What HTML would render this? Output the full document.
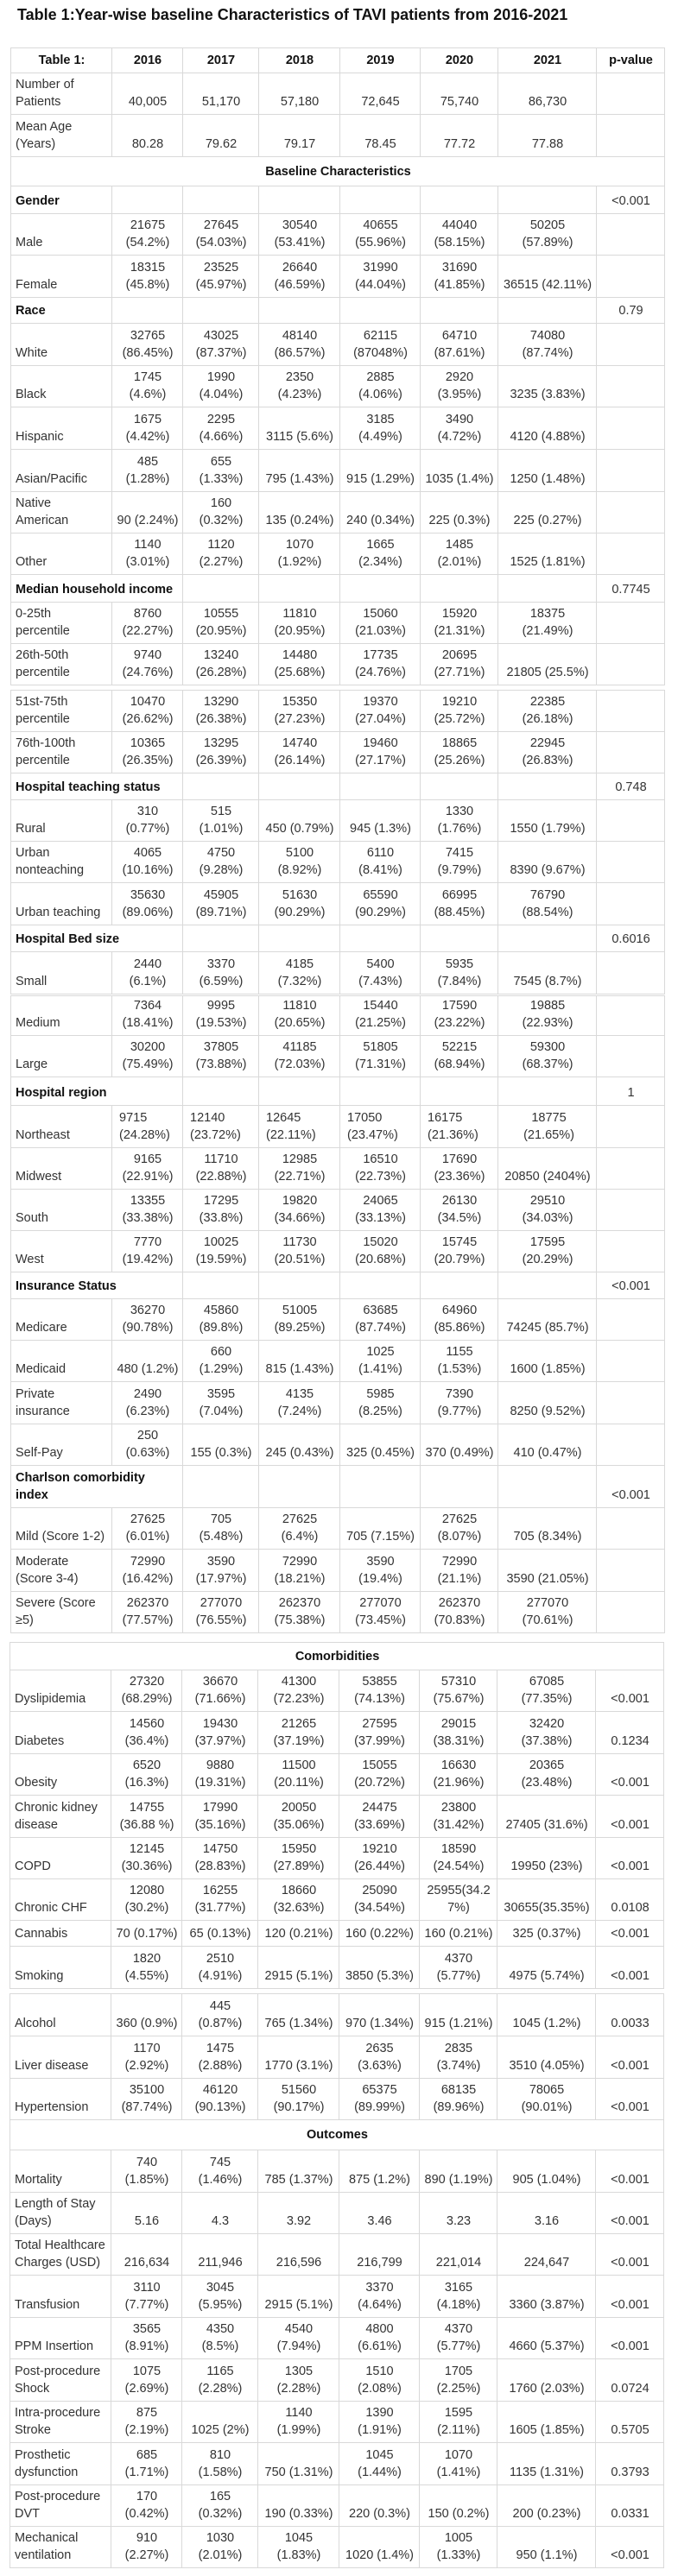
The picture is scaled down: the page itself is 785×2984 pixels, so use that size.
<!DOCTYPE html>
<html><head><meta charset="utf-8">
<style>
html,body{margin:0;padding:0;background:#fff;}
body{width:785px;height:2984px;position:relative;font-family:"Liberation Sans",Arial,sans-serif;color:#333;overflow:hidden;}
.title{position:absolute;left:20px;top:7px;font-size:18px;font-weight:bold;color:#111;white-space:nowrap;}
table{position:absolute;left:12px;width:757px;border-collapse:collapse;table-layout:fixed;font-size:14.5px;line-height:20px;}
td{border:1px solid #d9d9d9;padding:0 4px 4px 5px;vertical-align:bottom;text-align:center;white-space:nowrap;overflow:hidden;}
td:first-child{text-align:left;}
.h td{font-weight:bold;color:#111;vertical-align:middle;padding-bottom:0;}
.s td{font-weight:bold;color:#111;text-align:center !important;vertical-align:middle;padding-bottom:0;}
td.b{font-weight:bold;color:#111;}
.l td{text-align:left;padding-left:8px;}
</style></head><body>
<div class="title">Table 1:Year-wise baseline Characteristics of TAVI patients from 2016-2021</div>

<table style="top:55px">
<colgroup><col style="width:117px"><col style="width:82px"><col style="width:88px"><col style="width:94px"><col style="width:93px"><col style="width:90px"><col style="width:114px"><col style="width:79px"></colgroup>
<tr class="h" style="height:29px"><td style="text-align:center">Table 1:</td><td>2016</td><td>2017</td><td>2018</td><td>2019</td><td>2020</td><td>2021</td><td>p-value</td></tr>
<tr style="height:48px"><td>Number of<br>Patients</td><td>40,005</td><td>51,170</td><td>57,180</td><td>72,645</td><td>75,740</td><td>86,730</td><td></td></tr>
<tr style="height:49px"><td>Mean Age<br>(Years)</td><td>80.28</td><td>79.62</td><td>79.17</td><td>78.45</td><td>77.72</td><td>77.88</td><td></td></tr>
<tr class="s" style="height:34px"><td colspan="8">Baseline Characteristics</td></tr>
<tr style="height:32px"><td class="b">Gender</td><td></td><td></td><td></td><td></td><td></td><td></td><td>&lt;0.001</td></tr>
<tr style="height:48px"><td>Male</td><td>21675<br>(54.2%)</td><td>27645<br>(54.03%)</td><td>30540<br>(53.41%)</td><td>40655<br>(55.96%)</td><td>44040<br>(58.15%)</td><td>50205<br>(57.89%)</td><td></td></tr>
<tr style="height:49px"><td>Female</td><td>18315<br>(45.8%)</td><td>23525<br>(45.97%)</td><td>26640<br>(46.59%)</td><td>31990<br>(44.04%)</td><td>31690<br>(41.85%)</td><td>36515 (42.11%)</td><td></td></tr>
<tr style="height:30px"><td class="b">Race</td><td></td><td></td><td></td><td></td><td></td><td></td><td>0.79</td></tr>
<tr style="height:49px"><td>White</td><td>32765<br>(86.45%)</td><td>43025<br>(87.37%)</td><td>48140<br>(86.57%)</td><td>62115<br>(87048%)</td><td>64710<br>(87.61%)</td><td>74080<br>(87.74%)</td><td></td></tr>
<tr style="height:48px"><td>Black</td><td>1745<br>(4.6%)</td><td>1990<br>(4.04%)</td><td>2350<br>(4.23%)</td><td>2885<br>(4.06%)</td><td>2920<br>(3.95%)</td><td>3235 (3.83%)</td><td></td></tr>
<tr style="height:49px"><td>Hispanic</td><td>1675<br>(4.42%)</td><td>2295<br>(4.66%)</td><td>3115 (5.6%)</td><td>3185<br>(4.49%)</td><td>3490<br>(4.72%)</td><td>4120 (4.88%)</td><td></td></tr>
<tr style="height:49px"><td>Asian/Pacific</td><td>485<br>(1.28%)</td><td>655<br>(1.33%)</td><td>795 (1.43%)</td><td>915 (1.29%)</td><td>1035 (1.4%)</td><td>1250 (1.48%)</td><td></td></tr>
<tr style="height:48px"><td>Native<br>American</td><td>90 (2.24%)</td><td>160<br>(0.32%)</td><td>135 (0.24%)</td><td>240 (0.34%)</td><td>225 (0.3%)</td><td>225 (0.27%)</td><td></td></tr>
<tr style="height:48px"><td>Other</td><td>1140<br>(3.01%)</td><td>1120<br>(2.27%)</td><td>1070<br>(1.92%)</td><td>1665<br>(2.34%)</td><td>1485<br>(2.01%)</td><td>1525 (1.81%)</td><td></td></tr>
<tr style="height:32px"><td class="b" colspan="2">Median household income</td><td></td><td></td><td></td><td></td><td></td><td>0.7745</td></tr>
<tr style="height:48px"><td>0-25th<br>percentile</td><td>8760<br>(22.27%)</td><td>10555<br>(20.95%)</td><td>11810<br>(20.95%)</td><td>15060<br>(21.03%)</td><td>15920<br>(21.31%)</td><td>18375<br>(21.49%)</td><td></td></tr>
<tr style="height:48px"><td>26th-50th<br>percentile</td><td>9740<br>(24.76%)</td><td>13240<br>(26.28%)</td><td>14480<br>(25.68%)</td><td>17735<br>(24.76%)</td><td>20695<br>(27.71%)</td><td>21805 (25.5%)</td><td></td></tr>
</table>

<table style="top:799px">
<colgroup><col style="width:117px"><col style="width:82px"><col style="width:88px"><col style="width:94px"><col style="width:93px"><col style="width:90px"><col style="width:114px"><col style="width:79px"></colgroup>
<tr style="height:48px"><td>51st-75th<br>percentile</td><td>10470<br>(26.62%)</td><td>13290<br>(26.38%)</td><td>15350<br>(27.23%)</td><td>19370<br>(27.04%)</td><td>19210<br>(25.72%)</td><td>22385<br>(26.18%)</td><td></td></tr>
<tr style="height:48px"><td>76th-100th<br>percentile</td><td>10365<br>(26.35%)</td><td>13295<br>(26.39%)</td><td>14740<br>(26.14%)</td><td>19460<br>(27.17%)</td><td>18865<br>(25.26%)</td><td>22945<br>(26.83%)</td><td></td></tr>
<tr style="height:31px"><td class="b" colspan="2">Hospital teaching status</td><td></td><td></td><td></td><td></td><td></td><td>0.748</td></tr>
<tr style="height:48px"><td>Rural</td><td>310<br>(0.77%)</td><td>515<br>(1.01%)</td><td>450 (0.79%)</td><td>945 (1.3%)</td><td>1330<br>(1.76%)</td><td>1550 (1.79%)</td><td></td></tr>
<tr style="height:48px"><td>Urban<br>nonteaching</td><td>4065<br>(10.16%)</td><td>4750<br>(9.28%)</td><td>5100<br>(8.92%)</td><td>6110<br>(8.41%)</td><td>7415<br>(9.79%)</td><td>8390 (9.67%)</td><td></td></tr>
<tr style="height:49px"><td>Urban teaching</td><td>35630<br>(89.06%)</td><td>45905<br>(89.71%)</td><td>51630<br>(90.29%)</td><td>65590<br>(90.29%)</td><td>66995<br>(88.45%)</td><td>76790<br>(88.54%)</td><td></td></tr>
<tr style="height:31px"><td class="b" colspan="2">Hospital Bed size</td><td></td><td></td><td></td><td></td><td></td><td>0.6016</td></tr>
<tr style="height:49px"><td>Small</td><td>2440<br>(6.1%)</td><td>3370<br>(6.59%)</td><td>4185<br>(7.32%)</td><td>5400<br>(7.43%)</td><td>5935<br>(7.84%)</td><td>7545 (8.7%)</td><td></td></tr>
</table>

<table style="top:1153px">
<colgroup><col style="width:117px"><col style="width:82px"><col style="width:88px"><col style="width:94px"><col style="width:93px"><col style="width:90px"><col style="width:114px"><col style="width:79px"></colgroup>
<tr style="height:46px"><td>Medium</td><td>7364<br>(18.41%)</td><td>9995<br>(19.53%)</td><td>11810<br>(20.65%)</td><td>15440<br>(21.25%)</td><td>17590<br>(23.22%)</td><td>19885<br>(22.93%)</td><td></td></tr>
<tr style="height:48px"><td>Large</td><td>30200<br>(75.49%)</td><td>37805<br>(73.88%)</td><td>41185<br>(72.03%)</td><td>51805<br>(71.31%)</td><td>52215<br>(68.94%)</td><td>59300<br>(68.37%)</td><td></td></tr>
<tr style="height:33px"><td class="b" colspan="2">Hospital region</td><td></td><td></td><td></td><td></td><td></td><td>1</td></tr>
<tr class="l" style="height:49px"><td style="padding-left:5px">Northeast</td><td>9715<br>(24.28%)</td><td>12140<br>(23.72%)</td><td>12645<br>(22.11%)</td><td>17050<br>(23.47%)</td><td>16175<br>(21.36%)</td><td style="text-align:center">18775<br>(21.65%)</td><td></td></tr>
<tr style="height:48px"><td>Midwest</td><td>9165<br>(22.91%)</td><td>11710<br>(22.88%)</td><td>12985<br>(22.71%)</td><td>16510<br>(22.73%)</td><td>17690<br>(23.36%)</td><td>20850 (2404%)</td><td></td></tr>
<tr style="height:48px"><td>South</td><td>13355<br>(33.38%)</td><td>17295<br>(33.8%)</td><td>19820<br>(34.66%)</td><td>24065<br>(33.13%)</td><td>26130<br>(34.5%)</td><td>29510<br>(34.03%)</td><td></td></tr>
<tr style="height:48px"><td>West</td><td>7770<br>(19.42%)</td><td>10025<br>(19.59%)</td><td>11730<br>(20.51%)</td><td>15020<br>(20.68%)</td><td>15745<br>(20.79%)</td><td>17595<br>(20.29%)</td><td></td></tr>
<tr style="height:31px"><td class="b" colspan="2">Insurance Status</td><td></td><td></td><td></td><td></td><td></td><td>&lt;0.001</td></tr>
<tr style="height:48px"><td>Medicare</td><td>36270<br>(90.78%)</td><td>45860<br>(89.8%)</td><td>51005<br>(89.25%)</td><td>63685<br>(87.74%)</td><td>64960<br>(85.86%)</td><td>74245 (85.7%)</td><td></td></tr>
<tr style="height:48px"><td>Medicaid</td><td>480 (1.2%)</td><td>660<br>(1.29%)</td><td>815 (1.43%)</td><td>1025<br>(1.41%)</td><td>1155<br>(1.53%)</td><td>1600 (1.85%)</td><td></td></tr>
<tr style="height:49px"><td>Private<br>insurance</td><td>2490<br>(6.23%)</td><td>3595<br>(7.04%)</td><td>4135<br>(7.24%)</td><td>5985<br>(8.25%)</td><td>7390<br>(9.77%)</td><td>8250 (9.52%)</td><td></td></tr>
<tr style="height:48px"><td>Self-Pay</td><td>250<br>(0.63%)</td><td>155 (0.3%)</td><td>245 (0.43%)</td><td>325 (0.45%)</td><td>370 (0.49%)</td><td>410 (0.47%)</td><td></td></tr>
<tr style="height:49px"><td class="b" colspan="2">Charlson comorbidity<br>index</td><td></td><td></td><td></td><td></td><td></td><td>&lt;0.001</td></tr>
<tr style="height:48px"><td>Mild (Score 1-2)</td><td>27625<br>(6.01%)</td><td>705<br>(5.48%)</td><td>27625<br>(6.4%)</td><td>705 (7.15%)</td><td>27625<br>(8.07%)</td><td>705 (8.34%)</td><td></td></tr>
<tr style="height:49px"><td>Moderate<br>(Score 3-4)</td><td>72990<br>(16.42%)</td><td>3590<br>(17.97%)</td><td>72990<br>(18.21%)</td><td>3590<br>(19.4%)</td><td>72990<br>(21.1%)</td><td>3590 (21.05%)</td><td></td></tr>
<tr style="height:48px"><td>Severe (Score<br>≥5)</td><td>262370<br>(77.57%)</td><td>277070<br>(76.55%)</td><td>262370<br>(75.38%)</td><td>277070<br>(73.45%)</td><td>262370<br>(70.83%)</td><td>277070<br>(70.61%)</td><td></td></tr>
</table>

<table style="top:1902px;left:11px">
<colgroup><col style="width:117px"><col style="width:82px"><col style="width:88px"><col style="width:94px"><col style="width:93px"><col style="width:90px"><col style="width:114px"><col style="width:79px"></colgroup>
<tr class="s" style="height:32px"><td colspan="8">Comorbidities</td></tr>
<tr style="height:48px"><td>Dyslipidemia</td><td>27320<br>(68.29%)</td><td>36670<br>(71.66%)</td><td>41300<br>(72.23%)</td><td>53855<br>(74.13%)</td><td>57310<br>(75.67%)</td><td>67085<br>(77.35%)</td><td>&lt;0.001</td></tr>
<tr style="height:49px"><td>Diabetes</td><td>14560<br>(36.4%)</td><td>19430<br>(37.97%)</td><td>21265<br>(37.19%)</td><td>27595<br>(37.99%)</td><td>29015<br>(38.31%)</td><td>32420<br>(37.38%)</td><td>0.1234</td></tr>
<tr style="height:48px"><td>Obesity</td><td>6520<br>(16.3%)</td><td>9880<br>(19.31%)</td><td>11500<br>(20.11%)</td><td>15055<br>(20.72%)</td><td>16630<br>(21.96%)</td><td>20365<br>(23.48%)</td><td>&lt;0.001</td></tr>
<tr style="height:49px"><td>Chronic kidney<br>disease</td><td>14755<br>(36.88 %)</td><td>17990<br>(35.16%)</td><td>20050<br>(35.06%)</td><td>24475<br>(33.69%)</td><td>23800<br>(31.42%)</td><td>27405 (31.6%)</td><td>&lt;0.001</td></tr>
<tr style="height:48px"><td>COPD</td><td>12145<br>(30.36%)</td><td>14750<br>(28.83%)</td><td>15950<br>(27.89%)</td><td>19210<br>(26.44%)</td><td>18590<br>(24.54%)</td><td>19950 (23%)</td><td>&lt;0.001</td></tr>
<tr style="height:48px"><td>Chronic CHF</td><td>12080<br>(30.2%)</td><td>16255<br>(31.77%)</td><td>18660<br>(32.63%)</td><td>25090<br>(34.54%)</td><td>25955(34.2<br>7%)</td><td>30655(35.35%)</td><td>0.0108</td></tr>
<tr style="height:30px"><td>Cannabis</td><td>70 (0.17%)</td><td>65 (0.13%)</td><td>120 (0.21%)</td><td>160 (0.22%)</td><td>160 (0.21%)</td><td>325 (0.37%)</td><td>&lt;0.001</td></tr>
<tr style="height:49px"><td>Smoking</td><td>1820<br>(4.55%)</td><td>2510<br>(4.91%)</td><td>2915 (5.1%)</td><td>3850 (5.3%)</td><td>4370<br>(5.77%)</td><td>4975 (5.74%)</td><td>&lt;0.001</td></tr>
</table>

<table style="top:2309px;left:11px">
<colgroup><col style="width:117px"><col style="width:82px"><col style="width:88px"><col style="width:94px"><col style="width:93px"><col style="width:90px"><col style="width:114px"><col style="width:79px"></colgroup>
<tr style="height:49px"><td>Alcohol</td><td>360 (0.9%)</td><td>445<br>(0.87%)</td><td>765 (1.34%)</td><td>970 (1.34%)</td><td>915 (1.21%)</td><td>1045 (1.2%)</td><td>0.0033</td></tr>
<tr style="height:49px"><td>Liver disease</td><td>1170<br>(2.92%)</td><td>1475<br>(2.88%)</td><td>1770 (3.1%)</td><td>2635<br>(3.63%)</td><td>2835<br>(3.74%)</td><td>3510 (4.05%)</td><td>&lt;0.001</td></tr>
<tr style="height:48px"><td>Hypertension</td><td>35100<br>(87.74%)</td><td>46120<br>(90.13%)</td><td>51560<br>(90.17%)</td><td>65375<br>(89.99%)</td><td>68135<br>(89.96%)</td><td>78065<br>(90.01%)</td><td>&lt;0.001</td></tr>
<tr class="s" style="height:35px"><td colspan="8">Outcomes</td></tr>
<tr style="height:49px"><td>Mortality</td><td>740<br>(1.85%)</td><td>745<br>(1.46%)</td><td>785 (1.37%)</td><td>875 (1.2%)</td><td>890 (1.19%)</td><td>905 (1.04%)</td><td>&lt;0.001</td></tr>
<tr style="height:48px"><td>Length of Stay<br>(Days)</td><td>5.16</td><td>4.3</td><td>3.92</td><td>3.46</td><td>3.23</td><td>3.16</td><td>&lt;0.001</td></tr>
<tr style="height:48px"><td>Total Healthcare<br>Charges (USD)</td><td>216,634</td><td>211,946</td><td>216,596</td><td>216,799</td><td>221,014</td><td>224,647</td><td>&lt;0.001</td></tr>
<tr style="height:49px"><td>Transfusion</td><td>3110<br>(7.77%)</td><td>3045<br>(5.95%)</td><td>2915 (5.1%)</td><td>3370<br>(4.64%)</td><td>3165<br>(4.18%)</td><td>3360 (3.87%)</td><td>&lt;0.001</td></tr>
<tr style="height:48px"><td>PPM Insertion</td><td>3565<br>(8.91%)</td><td>4350<br>(8.5%)</td><td>4540<br>(7.94%)</td><td>4800<br>(6.61%)</td><td>4370<br>(5.77%)</td><td>4660 (5.37%)</td><td>&lt;0.001</td></tr>
<tr style="height:49px"><td>Post-procedure<br>Shock</td><td>1075<br>(2.69%)</td><td>1165<br>(2.28%)</td><td>1305<br>(2.28%)</td><td>1510<br>(2.08%)</td><td>1705<br>(2.25%)</td><td>1760 (2.03%)</td><td>0.0724</td></tr>
<tr style="height:48px"><td>Intra-procedure<br>Stroke</td><td>875<br>(2.19%)</td><td>1025 (2%)</td><td>1140<br>(1.99%)</td><td>1390<br>(1.91%)</td><td>1595<br>(2.11%)</td><td>1605 (1.85%)</td><td>0.5705</td></tr>
<tr style="height:49px"><td>Prosthetic<br>dysfunction</td><td>685<br>(1.71%)</td><td>810<br>(1.58%)</td><td>750 (1.31%)</td><td>1045<br>(1.44%)</td><td>1070<br>(1.41%)</td><td>1135 (1.31%)</td><td>0.3793</td></tr>
<tr style="height:48px"><td>Post-procedure<br>DVT</td><td>170<br>(0.42%)</td><td>165<br>(0.32%)</td><td>190 (0.33%)</td><td>220 (0.3%)</td><td>150 (0.2%)</td><td>200 (0.23%)</td><td>0.0331</td></tr>
<tr style="height:48px"><td>Mechanical<br>ventilation</td><td>910<br>(2.27%)</td><td>1030<br>(2.01%)</td><td>1045<br>(1.83%)</td><td>1020 (1.4%)</td><td>1005<br>(1.33%)</td><td>950 (1.1%)</td><td>&lt;0.001</td></tr>
</table>
</body></html>
